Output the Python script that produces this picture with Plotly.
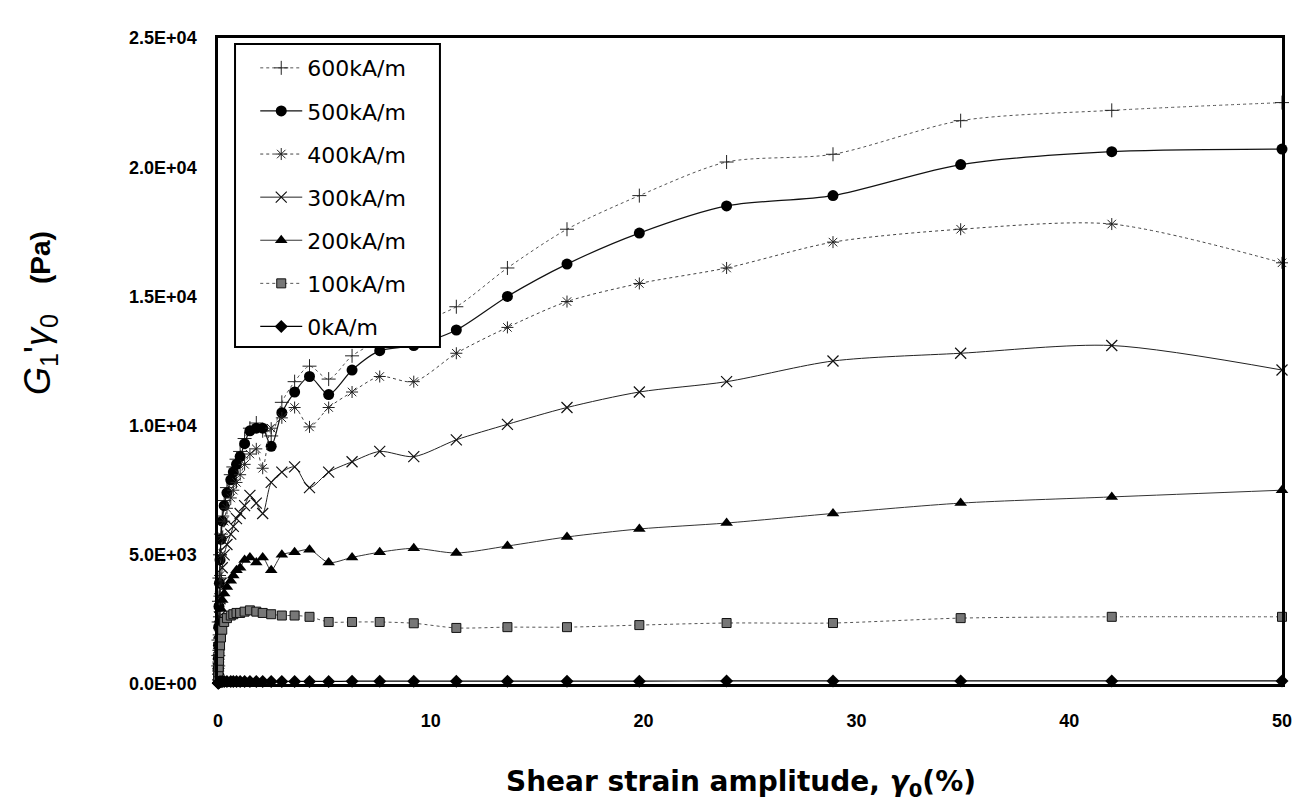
import plotly.graph_objects as go

# Shear strain amplitude (%)
strain = [0.01, 0.015, 0.022, 0.032, 0.046, 0.066, 0.096, 0.14, 0.2, 0.29, 0.42, 0.6, 0.72, 0.87,
          1.04, 1.25, 1.5, 1.8, 2.1, 2.5, 3.0, 3.6, 4.3, 5.2, 6.3, 7.6, 9.2, 11.2, 13.6, 16.4,
          19.8, 23.9, 28.9, 34.9, 42.0, 50.0]

g600 = [700, 1100, 1700, 2400, 3200, 4100, 5000, 5800, 6500, 7100, 7600, 8100, 8400, 8700,
        9000, 9500, 9900, 10100, 9800, 9600, 10900, 11700, 12300, 11800, 12700, 13300, 13900, 14600, 16100, 17600,
        18900, 20200, 20500, 21800, 22200, 22500]
g500 = [600, 1000, 1500, 2200, 3000, 3900, 4800, 5600, 6300, 6900, 7400, 7900, 8200, 8500,
        8800, 9300, 9800, 9900, 9900, 9200, 10500, 11300, 11900, 11200, 12150, 12900, 13100, 13700, 15000, 16250,
        17450, 18500, 18900, 20100, 20600, 20700]
g400 = [500, 850, 1300, 1900, 2600, 3400, 4200, 5000, 5700, 6300, 6800, 7200, 7500, 7800,
        8100, 8500, 8900, 9100, 8350, 9900, 10300, 10700, 9950, 10700, 11300, 11900, 11700, 12800, 13800, 14800,
        15500, 16100, 17100, 17600, 17800, 16300]
g300 = [350, 600, 950, 1400, 1950, 2600, 3300, 3900, 4500, 5000, 5400, 5800, 6100, 6400,
        6600, 6900, 7300, 7000, 6600, 7800, 8200, 8400, 7600, 8200, 8600, 9000, 8800, 9450, 10050, 10700,
        11300, 11700, 12500, 12800, 13100, 12150]
g200 = [250, 450, 700, 1050, 1450, 1900, 2400, 2900, 3250, 3500, 3750, 4000, 4200, 4400,
        4500, 4800, 4900, 4700, 4900, 4400, 5000, 5100, 5200, 4700, 4900, 5100, 5250, 5070, 5340, 5690,
        6000, 6230, 6600, 7000, 7240, 7500]
g100 = [150, 280, 450, 650, 900, 1200, 1500, 1800, 2100, 2400, 2550, 2650, 2700, 2750,
        2750, 2800, 2850, 2800, 2750, 2700, 2650, 2650, 2600, 2400, 2400, 2400, 2350, 2170, 2200, 2200,
        2280, 2360, 2360, 2550, 2600, 2600]
g0 = [30, 40, 50, 60, 70, 80, 90, 90, 100, 100, 100, 100, 100, 100,
      100, 100, 100, 100, 100, 100, 100, 100, 100, 100, 110, 110, 110, 110, 110, 110,
      110, 120, 120, 120, 120, 120]

series_names = ["600kA/m", "500kA/m", "400kA/m", "300kA/m", "200kA/m", "100kA/m", "0kA/m"]
series_values = [g600, g500, g400, g300, g200, g100, g0]

y_tick_vals = [0, 5000, 10000, 15000, 20000, 25000]
y_tick_text = ["0.0E+00", "5.0E+03", "1.0E+04", "1.5E+04", "2.0E+04", "2.5E+04"]
x_tick_vals = [0, 10, 20, 30, 40, 50]

styles = [
    dict(symbol="cross-thin-open", size=10, color="#222", lw=1, dash="dot", lcol="#555", mline=1),
    dict(symbol="circle", size=11, color="#000", lw=1.2, dash="solid", lcol="#111", mline=0),
    dict(symbol="asterisk-open", size=10, color="#222", lw=1, dash="dot", lcol="#444", mline=1),
    dict(symbol="x-thin-open", size=11, color="#111", lw=1, dash="solid", lcol="#222", mline=1.2),
    dict(symbol="triangle-up", size=11, color="#000", lw=1, dash="solid", lcol="#333", mline=0),
    dict(symbol="square", size=9, color="#777", lw=1, dash="dot", lcol="#555", mline=1),
    dict(symbol="diamond", size=10, color="#000", lw=1.2, dash="solid", lcol="#000", mline=0),
]

fig = go.Figure()
for i, (name, vals) in enumerate(zip(series_names, series_values)):
    s = styles[i]
    fig.add_trace(go.Scatter(
        x=strain, y=vals, name=name, mode="lines+markers",
        legendgroup=name,
        line=dict(color=s["lcol"], width=s["lw"], dash=s["dash"], shape="spline", smoothing=0.8),
        marker=dict(symbol=s["symbol"], size=s["size"], color=s["color"],
                    line=dict(color="#111" if s["mline"] else s["color"], width=s["mline"])),
        cliponaxis=False,
    ))

tick_font = dict(family="Liberation Sans", size=18, color="#000", weight="bold")

fig.update_layout(
    width=1304, height=806,
    margin=dict(l=218, r=22, t=38, b=122),
    paper_bgcolor="white", plot_bgcolor="white",
    showlegend=True,
    legend=dict(x=0.035, y=0.986, xanchor="left", yanchor="top",
                bgcolor="rgba(0,0,0,0)", borderwidth=0,
                font=dict(family="DejaVu Sans", size=22, color="#000"),
                itemwidth=42,
                tracegroupgap=11.5, traceorder="grouped"),
    xaxis=dict(range=[0, 50], tickvals=x_tick_vals, showgrid=False, zeroline=False,
               showline=True, linecolor="#000", linewidth=2.5, mirror=True,
               ticks="", tickfont=tick_font, ticklabelstandoff=19),
    yaxis=dict(range=[0, 25000], tickvals=y_tick_vals, ticktext=y_tick_text, showgrid=False,
               zeroline=False, showline=True, linecolor="#000", linewidth=2.5, mirror=True,
               ticks="", tickfont=tick_font, ticklabelstandoff=15),
    shapes=[dict(type="rect", xref="paper", yref="paper", x0=0.016, x1=0.2086, y0=0.5217, y1=0.9907,
                 line=dict(color="#000", width=2), fillcolor="white", layer="above")],
    annotations=[
        dict(text="Shear strain amplitude, <i>γ</i><sub>0</sub>(%)", xref="paper", yref="paper",
             x=(741 - 218) / 1064, y=-(783 - 684) / 646, xanchor="center", yanchor="middle",
             showarrow=False, font=dict(family="DejaVu Sans", size=28, color="#000", weight="bold")),
        dict(text="<i>G</i><sub>1</sub>'<i>γ</i><sub>0</sub>&nbsp;&nbsp;&nbsp;<b><span style='font-size:28px'>(Pa)</span></b>",
             xref="paper", yref="paper", x=-(218 - 40) / 1064, y=(684 - 313) / 646,
             xanchor="center", yanchor="middle", textangle=-90, showarrow=False,
             font=dict(family="Liberation Sans", size=36, color="#000")),
    ],
)

fig.write_html("out.html", post_script="document.body.style.margin='0';",
               config={"displayModeBar": False})
